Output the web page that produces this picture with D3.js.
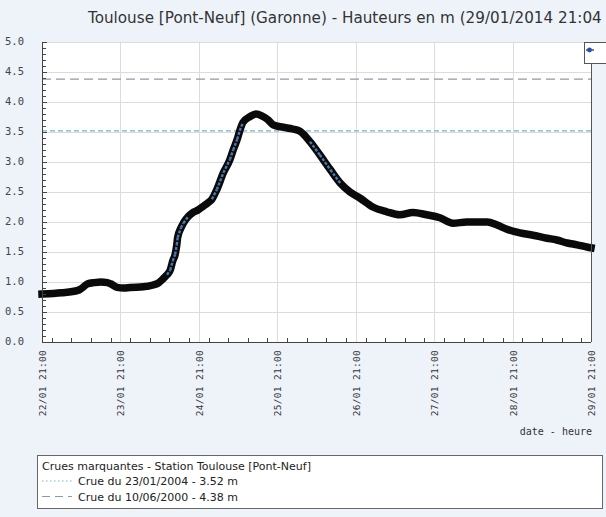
<!DOCTYPE html>
<html><head><meta charset="utf-8">
<script src="https://cdn.jsdelivr.net/npm/d3@7/dist/d3.min.js"></script>
<style>
html,body{margin:0;padding:0;background:#eef3fa;}
svg{display:block;}
</style></head>
<body>
<svg id="chart" width="606" height="517"></svg>
<script>
const title = "Toulouse [Pont-Neuf] (Garonne) - Hauteurs en m (29/01/2014 21:04";
const times = [
"2014-01-22 21:00","2014-01-23 03:00","2014-01-23 08:00","2014-01-23 09:00","2014-01-23 11:00",
"2014-01-23 13:00","2014-01-23 15:00","2014-01-23 17:00","2014-01-23 18:00","2014-01-23 20:00",
"2014-01-23 22:00","2014-01-24 00:00","2014-01-24 04:00","2014-01-24 07:00","2014-01-24 08:30",
"2014-01-24 10:00","2014-01-24 11:15","2014-01-24 12:15","2014-01-24 13:00","2014-01-24 13:45",
"2014-01-24 14:15","2014-01-24 14:30","2014-01-24 15:30","2014-01-24 16:15","2014-01-24 17:45",
"2014-01-24 19:15","2014-01-24 20:45","2014-01-24 22:15","2014-01-24 23:45","2014-01-25 01:00",
"2014-01-25 02:30","2014-01-25 04:30","2014-01-25 06:30","2014-01-25 07:30","2014-01-25 08:45",
"2014-01-25 09:30","2014-01-25 10:30","2014-01-25 12:45","2014-01-25 14:30","2014-01-25 16:15",
"2014-01-25 18:00","2014-01-25 19:45","2014-01-25 22:45","2014-01-26 01:45","2014-01-26 04:00",
"2014-01-26 07:00","2014-01-26 10:00","2014-01-26 13:15","2014-01-26 16:15","2014-01-26 19:15",
"2014-01-26 22:15","2014-01-27 02:15","2014-01-27 06:30","2014-01-27 10:30","2014-01-27 14:30",
"2014-01-27 18:45","2014-01-27 22:45","2014-01-28 02:45","2014-01-28 07:00","2014-01-28 13:15",
"2014-01-28 16:15","2014-01-28 19:15","2014-01-28 23:15","2014-01-29 03:15","2014-01-29 07:30",
"2014-01-29 10:30","2014-01-29 13:45","2014-01-29 16:45","2014-01-29 20:00","2014-01-29 21:00"];
const heights = [
0.80,0.82,0.86,0.89,0.97,
0.99,1.00,0.99,0.97,0.91,
0.90,0.91,0.92,0.95,0.98,
1.05,1.12,1.20,1.35,1.46,
1.62,1.74,1.90,1.98,2.09,
2.16,2.20,2.26,2.32,2.38,
2.54,2.82,3.04,3.20,3.38,
3.52,3.66,3.76,3.80,3.77,
3.71,3.62,3.58,3.55,3.51,
3.34,3.12,2.87,2.65,2.50,
2.40,2.25,2.17,2.12,2.16,
2.12,2.07,1.98,2.00,2.00,
1.95,1.88,1.82,1.78,1.73,
1.70,1.65,1.62,1.58,1.57];
const yTickLabels = ["0.0","0.5","1.0","1.5","2.0","2.5","3.0","3.5","4.0","4.5","5.0"];
const xTickTimes = ["2014-01-22 21:00","2014-01-23 21:00","2014-01-24 21:00","2014-01-25 21:00",
"2014-01-26 21:00","2014-01-27 21:00","2014-01-28 21:00","2014-01-29 21:00"];
const xTickLabels = ["22/01 21:00","23/01 21:00","24/01 21:00","25/01 21:00",
"26/01 21:00","27/01 21:00","28/01 21:00","29/01 21:00"];
const floodNames = ["Crue du 23/01/2004 - 3.52 m","Crue du 10/06/2000 - 4.38 m"];
const floodLevels = [3.52, 4.38];
const legendTitle = "Crues marquantes - Station Toulouse [Pont-Neuf]";
const xAxisTitle = "date - heure";

const parse = d3.timeParse("%Y-%m-%d %H:%M");
const data = times.map((t,i)=>({t:parse(t), v:heights[i]}));
const xt = xTickTimes.map(parse);

const L=42, R=591, T=42, B=342;
const x = d3.scaleTime().domain([xt[0], xt[xt.length-1]]).range([L,R]);
const y = d3.scaleLinear().domain([0,5]).range([B,T]);

const svg = d3.select("#chart");
svg.append("rect").attr("width",606).attr("height",517).attr("fill","#eef3fa");

// title
svg.append("text").attr("x",88).attr("y",23).attr("font-family","DejaVu Sans").attr("font-size",15.2)
  .attr("fill","#333").text(title);

// plot area
svg.append("rect").attr("x",L).attr("y",T).attr("width",R-L).attr("height",B-T).attr("fill","#fff");

// gridlines
svg.append("g").selectAll("line").data(yTickLabels.slice(1)).join("line")
  .attr("x1",L).attr("x2",R).attr("y1",d=>Math.round(y(+d))+0.5).attr("y2",d=>Math.round(y(+d))+0.5)
  .attr("stroke","#dcdcdc").attr("stroke-width",1);
svg.append("g").selectAll("line").data(xt.slice(1,-1)).join("line")
  .attr("y1",T).attr("y2",B).attr("x1",d=>Math.round(x(d))+0.5).attr("x2",d=>Math.round(x(d))+0.5)
  .attr("stroke","#dcdcdc").attr("stroke-width",1);

// flood lines
const floodColors = ["#74b2c6","#8e99a6"];
const floodDash = ["5,3","9,5"];
svg.append("g").selectAll("line").data(floodLevels).join("line")
  .attr("x1",L).attr("x2",R).attr("y1",d=>y(d)).attr("y2",d=>y(d))
  .attr("stroke",(d,i)=>floodColors[i]).attr("stroke-width",1.3).attr("stroke-dasharray",(d,i)=>floodDash[i]);

// series
const line = d3.line().x(d=>x(d.t)).y(d=>y(d.v)).curve(d3.curveMonotoneX);
svg.append("path").datum(data).attr("d",line).attr("fill","none").attr("stroke","#0a0a0a")
  .attr("stroke-width",7.5).attr("stroke-linejoin","round").attr("stroke-linecap","square");
// bluish inner on steep segments
const steep = [];
for(let i=1;i<data.length;i++){
  const dx = x(data[i].t)-x(data[i-1].t), dy = Math.abs(y(data[i].v)-y(data[i-1].v));
  if(dy>dx*1.3) steep.push([data[i-1],data[i]]);
}
svg.append("g").selectAll("path").data(steep).join("path")
  .attr("d",d3.line().x(d=>x(d.t)).y(d=>y(d.v)))
  .attr("fill","none").attr("stroke","#4a78b0").attr("stroke-width",2.4).attr("stroke-dasharray","3,1.5");

// axes lines
svg.append("line").attr("x1",L+0.5).attr("x2",L+0.5).attr("y1",T).attr("y2",B).attr("stroke","#444");
svg.append("line").attr("x1",L).attr("x2",R).attr("y1",B+0.5).attr("y2",B+0.5).attr("stroke","#444");
svg.append("line").attr("x1",R+0.5).attr("x2",R+0.5).attr("y1",T).attr("y2",B).attr("stroke","#555");

// y ticks (minor every 0.1)
svg.append("g").selectAll("line").data(y.ticks(50)).join("line")
  .attr("x1",L).attr("x2",d=>L+ (Math.abs(d*2-Math.round(d*2))<1e-6?5:4))
  .attr("y1",d=>Math.round(y(d))+0.5).attr("y2",d=>Math.round(y(d))+0.5).attr("stroke","#444");
svg.append("g").selectAll("text").data(yTickLabels).join("text")
  .attr("x",24).attr("y",d=>y(+d)).attr("dy","0.3em").attr("text-anchor","end")
  .attr("font-family","DejaVu Sans Mono").attr("font-size",10.5).attr("fill","#444").text(d=>d);

// x ticks every 6h
svg.append("g").selectAll("line").data(d3.timeHour.every(6).range(xt[0], d3.timeHour.offset(xt[xt.length-1],1))).join("line")
  .attr("x1",d=>Math.round(x(d))+0.5).attr("x2",d=>Math.round(x(d))+0.5)
  .attr("y1",B).attr("y2",B-4).attr("stroke","#444");
svg.append("g").selectAll("text").data(xt).join("text")
  .attr("transform",d=>`translate(${x(d)+4},350) rotate(-90)`).attr("text-anchor","end")
  .attr("font-family","DejaVu Sans Mono").attr("font-size",9.5).attr("fill","#333")
  .attr("letter-spacing",0.3).text((d,i)=>xTickLabels[i]);
svg.append("text").attr("x",592).attr("y",435).attr("text-anchor","end")
  .attr("font-family","DejaVu Sans Mono").attr("font-size",10).attr("fill","#333").text(xAxisTitle);

// top-right legend stub
svg.append("rect").attr("x",584.5).attr("y",42.5).attr("width",40).attr("height",21)
  .attr("fill","#fff").attr("stroke","#555");
svg.append("line").attr("x1",586).attr("x2",594).attr("y1",50).attr("y2",50).attr("stroke","#2a50a8").attr("stroke-width",1.5);
svg.append("circle").attr("cx",589.5).attr("cy",50).attr("r",2.4).attr("fill","#2a50a8");

// bottom legend
const lg = svg.append("g");
lg.append("rect").attr("x",37.5).attr("y",455.5).attr("width",565).attr("height",53)
  .attr("fill","#fff").attr("stroke","#666");
lg.append("text").attr("x",42).attr("y",470).attr("font-family","DejaVu Sans").attr("font-size",11)
  .attr("fill","#222").text(legendTitle);
lg.selectAll("line.s").data(floodNames).join("line").attr("class","s")
  .attr("x1",42).attr("x2",72).attr("y1",(d,i)=>481+i*15.5).attr("y2",(d,i)=>481+i*15.5)
  .attr("stroke",(d,i)=>floodColors[i]).attr("stroke-width",1.2)
  .attr("stroke-dasharray",(d,i)=>i===0?"1.5,2.5":"8,5");
lg.selectAll("text.n").data(floodNames).join("text").attr("class","n")
  .attr("x",78).attr("y",(d,i)=>485+i*15.5).attr("font-family","DejaVu Sans").attr("font-size",11)
  .attr("fill","#222").text(d=>d);
</script>
</body></html>
